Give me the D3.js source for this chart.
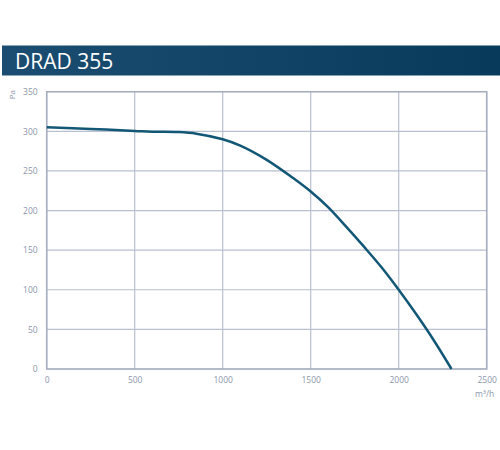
<!DOCTYPE html>
<html lang='en'>

<head>
   <meta charset='UTF-8'>
   <title>DRAD 355</title>
   <script src='https://d3js.org/d3.v7.min.js'></script>
   <style>
      body {
         margin: 0;
         background: #fff;
      }

      svg {
         display: block;
         font-family: 'Open Sans', sans-serif;
      }
   </style>
</head>

<body>
   <div id='chart'></div>
   <script>

      const title = 'DRAD 355';
      const airflow = [0, 250, 500, 600, 750, 850, 1000, 1100, 1250, 1400, 1500, 1600, 1700, 1800, 1900, 2000, 2100, 2200, 2300];
      const pressure = [305, 303, 300.5, 299.5, 299, 297, 290, 282, 264, 241, 224, 204, 180, 155, 129, 100, 69, 36, 0];
      const xTicks = [0, 500, 1000, 1500, 2000, 2500];
      const yTicks = [0, 50, 100, 150, 200, 250, 300, 350];

      const W = 500, H = 450;
      const margins = { top: 91.7, right: 13.3, bottom: 81, left: 46.7 };
      const width = W - margins.left - margins.right;
      const height = H - margins.top - margins.bottom;

      const svg = d3.select('#chart').append('svg').attr('width', W).attr('height', H);

      // header bar
      const defs = svg.append('defs');
      const grad = defs.append('linearGradient').attr('id', 'hdr').attr('x1', '0%').attr('x2', '100%');
      grad.append('stop').attr('offset', '0%').attr('stop-color', '#1b4d72');
      grad.append('stop').attr('offset', '100%').attr('stop-color', '#083a5b');

      svg.append('rect')
         .attr('x', 2).attr('y', 45.5)
         .attr('width', W - 2).attr('height', 30)
         .attr('fill', 'url(#hdr)');

      svg.append('text')
         .attr('x', 15).attr('y', 69)
         .attr('fill', '#fff')
         .attr('font-size', '21px')
         .text(title);

      const g = svg.append('g').attr('transform', `translate(${margins.left}, ${margins.top})`);

      const x = d3.scaleLinear().domain([0, 2500]).range([0, width]);
      const y = d3.scaleLinear().domain([0, 350]).range([height, 0]);

      // grid
      g.append('g')
         .selectAll('line.v').data(xTicks).enter().append('line')
         .attr('x1', d => x(d)).attr('x2', d => x(d))
         .attr('y1', 0).attr('y2', height)
         .attr('stroke', '#b9c0cf').attr('stroke-width', 1.2);

      g.append('g')
         .selectAll('line.h').data(yTicks).enter().append('line')
         .attr('x1', 0).attr('x2', width)
         .attr('y1', d => y(d)).attr('y2', d => y(d))
         .attr('stroke', '#b9c0cf').attr('stroke-width', 1.2);

      g.append('rect')
         .attr('width', width).attr('height', height)
         .attr('fill', 'none')
         .attr('stroke', '#a6aebe').attr('stroke-width', 1.5);

      // tick labels only, no axis lines
      const xAxis = d3.axisBottom(x).tickValues(xTicks).tickFormat(d3.format('d')).tickSize(0).tickPadding(8);
      g.append('g').attr('transform', `translate(0, ${height})`).call(xAxis)
         .call(a => a.select('.domain').remove())
         .selectAll('text').attr('fill', '#8d96ab').attr('font-size', '8.5px').attr('font-family', 'Open Sans');

      const yAxis = d3.axisLeft(y).tickValues(yTicks).tickFormat(d3.format('d')).tickSize(0).tickPadding(9);
      g.append('g').call(yAxis)
         .call(a => a.select('.domain').remove())
         .selectAll('text').attr('fill', '#8d96ab').attr('font-size', '8.5px').attr('font-family', 'Open Sans');

      g.append('text')
         .attr('transform', `translate(${-32}, ${y(350) + 3}) rotate(-90)`)
         .attr('text-anchor', 'middle')
         .attr('fill', '#8d96ab')
         .attr('font-size', '8px')
         .text('Pa');

      g.append('text')
         .attr('x', width - 2).attr('y', height + 28)
         .attr('text-anchor', 'middle')
         .attr('fill', '#8d96ab')
         .attr('font-size', '8.5px')
         .text('m³/h');

      // fan curve
      const pts = airflow.map((a, i) => [a, pressure[i]]);
      const line = d3.line()
         .x(d => x(d[0]))
         .y(d => y(d[1]))
         .curve(d3.curveCatmullRom.alpha(0.5));

      g.append('path')
         .attr('d', line(pts))
         .attr('fill', 'none')
         .attr('stroke', '#135776')
         .attr('stroke-width', 2.5);

   </script>
</body>

</html>
